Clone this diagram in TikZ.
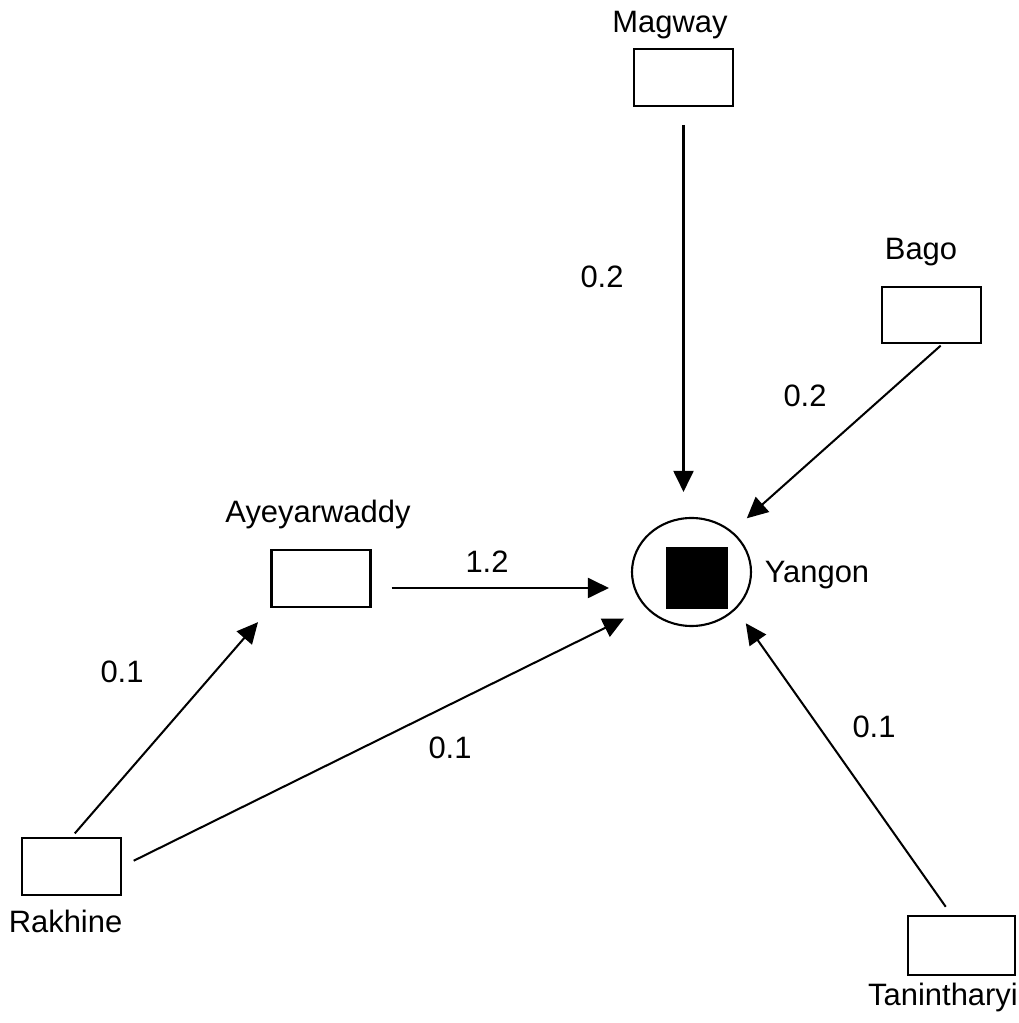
\documentclass[tikz,border=0pt]{standalone}
\usepackage{fontspec}
\setmainfont{Liberation Sans}
\usepackage{tikz}
\usetikzlibrary{arrows.meta, positioning, calc, shapes.geometric}

\begin{document}
\begin{tikzpicture}[>={Triangle[length=0.42cm, width=0.4cm]},
  region/.style={draw, line width=1.2pt, minimum width=1.98cm, minimum height=1.13cm, inner sep=0pt},
  lbl/.style={font=\fontsize{17.6}{21}\selectfont, inner sep=0pt},
  flow/.style={->, line width=1.15pt}]
  \useasboundingbox (0,0) rectangle (20.38,20.46);
  % Region boxes
  \node[region] (mag) at (13.67,18.91) {};
  \node[region] (bago) at (18.63,14.16) {};
  \node[region] (ayw) at (6.42,8.89) {};
  \node[region] (rak) at (1.43,3.13) {};
  \node[region, minimum width=2.14cm, minimum height=1.18cm] (tan) at (19.23,1.55) {};
  % Yangon (circle with black square)
  \node[ellipse, draw, line width=1.2pt, minimum width=2.38cm, minimum height=2.16cm, inner sep=0pt] (yg) at (13.83,9.02) {};
  \node[fill=black, minimum size=1.24cm, inner sep=0pt] (ygsq) at (13.94,8.90) {};
  % Names
  \node[lbl, anchor=base] (magname) at (13.40,19.80) {Magway};
  \node[lbl, anchor=base] (bagoname) at (18.42,15.26) {Bago};
  \node[lbl, anchor=base] (aywname) at (6.36,10.00) {Ayeyarwaddy};
  \node[lbl, anchor=base] (ygname) at (16.34,8.80) {Yangon};
  \node[lbl, anchor=base] (rakname) at (1.31,1.80) {Rakhine};
  \node[lbl, anchor=base] (tanname) at (18.86,0.34) {Tanintharyi};
  % Flows
  \coordinate[yshift=-0.19cm] (aywout) at (ayw.east);
  \draw[flow, shorten <=0.36cm, shorten >=0.5cm] (mag.south) -- (mag.south |- yg.north);
  \draw[flow, shorten <=0.04cm, shorten >=0.39cm] (bago.-70) -- (yg.45);
  \draw[flow, shorten <=0.4cm, shorten >=0.44cm] (aywout) -- (aywout -| yg.west);
  \draw[flow, shorten <=0.1cm, shorten >=0.38cm] (rak.north) -- (ayw.south west);
  \draw[flow, shorten <=0.26cm, shorten >=0.48cm] (rak.east) -- (yg.218);
  \draw[flow, shorten <=0.2cm, shorten >=0.34cm] ([xshift=-2mm]tan.north) -- (yg.-40);
  % Flow values
  \node[lbl] (wmag) at (12.04,14.92) {0.2};
  \node[lbl] (wbago) at (16.10,12.54) {0.2};
  \node[lbl] (wayw) at (9.74,9.23) {1.2};
  \node[lbl] (wrakayw) at (2.44,7.02) {0.1};
  \node[lbl] (wrakyg) at (9.00,5.50) {0.1};
  \node[lbl] (wtan) at (17.48,5.92) {0.1};
\end{tikzpicture}
\end{document}
